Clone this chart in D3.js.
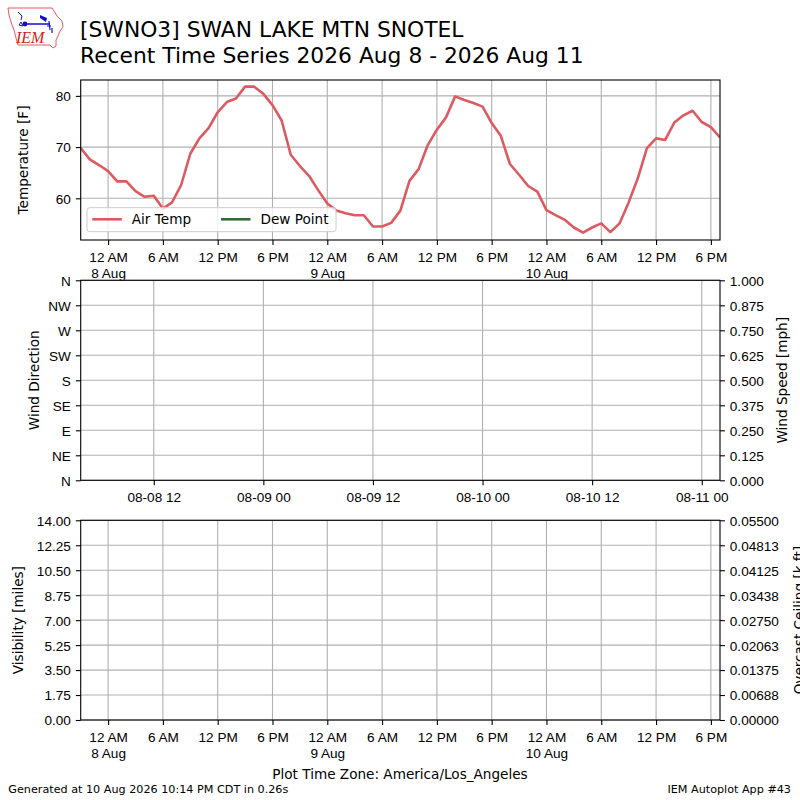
<!DOCTYPE html>
<html>
<head>
<meta charset="utf-8">
<script src="https://cdn.jsdelivr.net/npm/d3@7/dist/d3.min.js"></script>
<style>
  body { margin: 0; background: #fff; }
  svg { font-family: "DejaVu Sans", sans-serif; }
  .tick text { font-size: 13.6px; fill: #000; }
  .grid line { stroke: #b0b0b0; stroke-width: 1.1; }
  .axis path.domain { display: none; }
  .axis .tick line { stroke: #000; stroke-width: 1.1; }
  .lbl { font-size: 13.6px; fill: #000; }
</style>
</head>
<body>
<svg id="chart" width="800" height="800"></svg>
<script>
// SWNO3 recent time series -- wall clock times in America/Los_Angeles

var times = [
  "2026-08-07 21:00", "2026-08-07 22:00", "2026-08-07 23:00",
  "2026-08-08 00:00", "2026-08-08 01:00", "2026-08-08 02:00", "2026-08-08 03:00",
  "2026-08-08 04:00", "2026-08-08 05:00", "2026-08-08 06:00", "2026-08-08 07:00",
  "2026-08-08 08:00", "2026-08-08 09:00", "2026-08-08 10:00", "2026-08-08 11:00",
  "2026-08-08 12:00", "2026-08-08 13:00", "2026-08-08 14:00", "2026-08-08 15:00",
  "2026-08-08 16:00", "2026-08-08 17:00", "2026-08-08 18:00", "2026-08-08 19:00",
  "2026-08-08 20:00", "2026-08-08 21:00", "2026-08-08 22:00", "2026-08-08 23:00",
  "2026-08-09 00:00", "2026-08-09 01:00", "2026-08-09 02:00", "2026-08-09 03:00",
  "2026-08-09 04:00", "2026-08-09 05:00", "2026-08-09 06:00", "2026-08-09 07:00",
  "2026-08-09 08:00", "2026-08-09 09:00", "2026-08-09 10:00", "2026-08-09 11:00",
  "2026-08-09 12:00", "2026-08-09 13:00", "2026-08-09 14:00", "2026-08-09 15:00",
  "2026-08-09 16:00", "2026-08-09 17:00", "2026-08-09 18:00", "2026-08-09 19:00",
  "2026-08-09 20:00", "2026-08-09 21:00", "2026-08-09 22:00", "2026-08-09 23:00",
  "2026-08-10 00:00", "2026-08-10 01:00", "2026-08-10 02:00", "2026-08-10 03:00",
  "2026-08-10 04:00", "2026-08-10 05:00", "2026-08-10 06:00", "2026-08-10 07:00",
  "2026-08-10 08:00", "2026-08-10 09:00", "2026-08-10 10:00", "2026-08-10 11:00",
  "2026-08-10 12:00", "2026-08-10 13:00", "2026-08-10 14:00", "2026-08-10 15:00",
  "2026-08-10 16:00", "2026-08-10 17:00", "2026-08-10 18:00", "2026-08-10 19:00"
];

var airTemp = [
  69.8, 67.6, 66.5,
  65.3, 63.3, 63.3, 61.4, 60.3, 60.5, 58.0, 59.2, 62.6, 68.7, 71.7, 73.7,
  76.8, 78.8, 79.5, 81.8, 81.8, 80.4, 78.2, 75.2, 68.5, 66.3, 64.4, 61.6,
  59.0, 57.6, 57.1, 56.7, 56.7, 54.5, 54.5, 55.2, 57.6, 63.4, 65.7, 70.4,
  73.4, 75.8, 79.9, 79.2, 78.6, 77.9, 74.7, 72.2, 66.7, 64.6, 62.4, 61.3,
  57.7, 56.7, 55.8, 54.3, 53.3, 54.3, 55.1, 53.4, 55.1, 59.2, 63.9, 69.8,
  71.7, 71.4, 74.8, 76.2, 77.1, 74.9, 73.9, 71.9
];
var dewPoint = [];   // station reports no dew point

var tempRange = [51.86, 83.1];
var tempTicks = [60, 70, 80];
var dirTicks = [0, 45, 90, 135, 180, 225, 270, 315, 360];
var dirLabels = ["N", "NE", "E", "SE", "S", "SW", "W", "NW", "N"];
var speedTicks = [0, 0.125, 0.25, 0.375, 0.5, 0.625, 0.75, 0.875, 1];
var visTicks = [0, 1.75, 3.5, 5.25, 7, 8.75, 10.5, 12.25, 14];
var ceilTicks = [0, 0.006875, 0.01375, 0.020625, 0.0275, 0.034375, 0.04125, 0.048125, 0.055];
var utcOffsetHours = 7;   // PDT -> UTC for the wind panel

var parseTime = d3.utcParse("%Y-%m-%d %H:%M");
var obs = times.map(function (t, i) {
  return { time: parseTime(t), tmpf: airTemp[i] };
});

var svg = d3.select("#chart");
var left = 80.7, right = 720;
var panels = {
  temp: { top: 80, bottom: 240 },
  wind: { top: 280.3, bottom: 480.3 },
  vis:  { top: 520.3, bottom: 720 }
};

var x = d3.scaleUtc()
  .domain(d3.extent(obs, function (d) { return d.time; }))
  .range([left, right]);

// same span, labelled in UTC
var xUtc = d3.scaleUtc()
  .domain(x.domain().map(function (d) { return d3.utcHour.offset(d, utcOffsetHours); }))
  .range([left, right]);

var localTicks = x.ticks(d3.utcHour.every(6));
var utcTicks = xUtc.ticks(d3.utcHour.every(12));

var hourFmt = d3.utcFormat("%-I %p");
var dayFmt = d3.utcFormat("%-d %b");
var utcFmt = d3.utcFormat("%m-%d %H");

///////////////////////////////////////////////////////////////////////////////
// helpers

var drawGrid = function (p, xs, xTicks, ys, yTicks) {
  var g = svg.append("g").attr("class", "grid");
  g.selectAll("line.v").data(xTicks).enter().append("line")
    .attr("x1", xs).attr("x2", xs)
    .attr("y1", p.top).attr("y2", p.bottom);
  g.selectAll("line.h").data(yTicks).enter().append("line")
    .attr("x1", left).attr("x2", right)
    .attr("y1", ys).attr("y2", ys);
};

var drawFrame = function (p) {
  svg.append("rect")
    .attr("x", left).attr("y", p.top)
    .attr("width", right - left).attr("height", p.bottom - p.top)
    .attr("fill", "none").attr("stroke", "#000").attr("stroke-width", 1.1);
};

// bottom axis with two-line labels at midnight
var localAxis = function (p) {
  var g = svg.append("g").attr("class", "axis")
    .attr("transform", "translate(0," + p.bottom + ")")
    .call(d3.axisBottom(x).tickValues(localTicks).tickSize(4.9).tickPadding(4.9).tickFormat(""));
  g.selectAll(".tick text").remove();
  g.selectAll(".tick").append("text")
    .attr("text-anchor", "middle")
    .each(function (d) {
      var t = d3.select(this);
      t.append("tspan").attr("x", 0).attr("y", 21.7).text(hourFmt(d));
      if (d.getUTCHours() === 0)
        t.append("tspan").attr("x", 0).attr("y", 38.3).text(dayFmt(d));
    });
};

var leftAxis = function (p, ys, ticks, fmt) {
  var g = svg.append("g").attr("class", "axis")
    .attr("transform", "translate(" + left + ",0)")
    .call(d3.axisLeft(ys).tickValues(ticks).tickSize(4.9).tickPadding(4.9).tickFormat(fmt));
  g.selectAll(".tick text").attr("dy", "0.36em");
};

var rightAxis = function (p, ys, ticks, fmt) {
  var g = svg.append("g").attr("class", "axis")
    .attr("transform", "translate(" + right + ",0)")
    .call(d3.axisRight(ys).tickValues(ticks).tickSize(4.9).tickPadding(4.9).tickFormat(fmt));
  g.selectAll(".tick text").attr("dy", "0.36em");
};

var yLabel = function (text, bx, cy, color) {
  svg.append("text").attr("class", "lbl")
    .attr("transform", "translate(" + bx + "," + cy + ") rotate(-90)")
    .attr("text-anchor", "middle")
    .attr("fill", color || "#000")
    .text(text);
};

///////////////////////////////////////////////////////////////////////////////
// Temperature panel

var pT = panels.temp;
var yT = d3.scaleLinear().domain(tempRange).range([pT.bottom, pT.top]);

drawGrid(pT, x, localTicks, yT, tempTicks);

svg.append("clipPath").attr("id", "clipT").append("rect")
  .attr("x", left).attr("y", pT.top)
  .attr("width", right - left).attr("height", pT.bottom - pT.top);

var line = d3.line()
  .x(function (d) { return x(d.time); })
  .y(function (d) { return yT(d.tmpf); });

svg.append("path")
  .datum(obs)
  .attr("clip-path", "url(#clipT)")
  .attr("fill", "none")
  .attr("stroke", "#dc5a60")
  .attr("stroke-width", 2.6)
  .attr("stroke-linejoin", "round")
  .attr("d", line);

// legend
var legend = svg.append("g").attr("transform", "translate(87,207.7)");
legend.append("rect")
  .attr("width", 249).attr("height", 24).attr("rx", 2.8)
  .attr("fill", "#fff").attr("fill-opacity", 0.8)
  .attr("stroke", "#cccccc").attr("stroke-width", 1);
var legendItems = [
  { name: "Air Temp", color: "#dc5a60", x: 5.3 },
  { name: "Dew Point", color: "#2f6b35", x: 134 }
];
legendItems.forEach(function (it) {
  legend.append("line")
    .attr("x1", it.x).attr("x2", it.x + 29.5)
    .attr("y1", 11.6).attr("y2", 11.6)
    .attr("stroke", it.color).attr("stroke-width", 2.6);
  legend.append("text").attr("class", "lbl")
    .attr("x", it.x + 39.5).attr("y", 16.5)
    .text(it.name);
});

drawFrame(pT);
leftAxis(pT, yT, tempTicks, d3.format("d"));
localAxis(pT);
yLabel("Temperature [F]", 27.5, (pT.top + pT.bottom) / 2);

///////////////////////////////////////////////////////////////////////////////
// Wind panel (empty)

var pW = panels.wind;
var yDir = d3.scaleLinear().domain([0, 360]).range([pW.bottom, pW.top]);
var ySpd = d3.scaleLinear().domain([0, 1]).range([pW.bottom, pW.top]);

drawGrid(pW, xUtc, utcTicks, yDir, dirTicks);
drawFrame(pW);
leftAxis(pW, yDir, dirTicks, function (d, i) { return dirLabels[i]; });
rightAxis(pW, ySpd, speedTicks, d3.format(".3f"));

var gw = svg.append("g").attr("class", "axis")
  .attr("transform", "translate(0," + pW.bottom + ")")
  .call(d3.axisBottom(xUtc).tickValues(utcTicks).tickSize(4.9).tickPadding(4.9).tickFormat(utcFmt));
gw.selectAll(".tick text").attr("dy", null).attr("y", 21.7);

yLabel("Wind Direction", 38.5, (pW.top + pW.bottom) / 2);
yLabel("Wind Speed [mph]", 787, (pW.top + pW.bottom) / 2);

///////////////////////////////////////////////////////////////////////////////
// Visibility / ceiling panel (empty)

var pV = panels.vis;
var yVis = d3.scaleLinear().domain([0, 14]).range([pV.bottom, pV.top]);
var yCeil = d3.scaleLinear().domain([0, 0.055]).range([pV.bottom, pV.top]);

drawGrid(pV, x, localTicks, yVis, visTicks);
drawFrame(pV);
leftAxis(pV, yVis, visTicks, d3.format(".2f"));
rightAxis(pV, yCeil, ceilTicks, d3.format(".5f"));
localAxis(pV);

yLabel("Visibility [miles]", 22.5, (pV.top + pV.bottom) / 2);
yLabel("Overcast Ceiling [k ft]", 804, (pV.top + pV.bottom) / 2, "#008000");

///////////////////////////////////////////////////////////////////////////////
// Titles, footer, logo

svg.append("text").attr("x", 80).attr("y", 37.3)
  .style("font-size", "21.8px").text("[SWNO3] SWAN LAKE MTN SNOTEL");
svg.append("text").attr("x", 80).attr("y", 63.3)
  .style("font-size", "21.8px").text("Recent Time Series 2026 Aug 8 - 2026 Aug 11");

svg.append("text").attr("class", "lbl")
  .attr("x", 400).attr("y", 779).attr("text-anchor", "middle")
  .text("Plot Time Zone: America/Los_Angeles");
svg.append("text").attr("x", 8.3).attr("y", 793)
  .style("font-size", "11.2px").text("Generated at 10 Aug 2026 10:14 PM CDT in 0.26s");
svg.append("text").attr("x", 791).attr("y", 793).attr("text-anchor", "end")
  .style("font-size", "11.2px").text("IEM Autoplot App #43");

var logo = svg.append("g");
logo.append("path")
  .attr("d", "M8,8 L52,8 L54,11 L57,16 L62,21 L63,27 L60,31 L58,36 L56,40 L56,46 L53,48 L50,45 L18,45 L16,38 L14,30 L11,22 L9,15 Z")
  .attr("fill", "none").attr("stroke", "#e03030").attr("stroke-width", 0.8);
logo.append("line").attr("x1", 24).attr("x2", 50).attr("y1", 24).attr("y2", 24)
  .attr("stroke", "#1010c0").attr("stroke-width", 1.5);
logo.append("circle").attr("cx", 25).attr("cy", 24).attr("r", 2.4).attr("fill", "#1010c0");
logo.append("path").attr("d", "M18,12 L22,16 L21,20 M19,25 L21,22 L23,26 Z")
  .attr("fill", "none").attr("stroke", "#1010c0").attr("stroke-width", 1);
logo.append("path").attr("d", "M40,15 L47,18 L46,22 L40,18 Z")
  .attr("fill", "#1010c0");
logo.append("path").attr("d", "M49,21 L50,30 M47,26 L51,26 M52,28 L52,33")
  .attr("fill", "none").attr("stroke", "#1010c0").attr("stroke-width", 1.2);
logo.append("text").attr("x", 16).attr("y", 43)
  .style("font-family", "'Liberation Serif', serif").style("font-style", "italic")
  .style("font-size", "16px").attr("fill", "#d02020").text("IEM");
</script>
</body>
</html>
